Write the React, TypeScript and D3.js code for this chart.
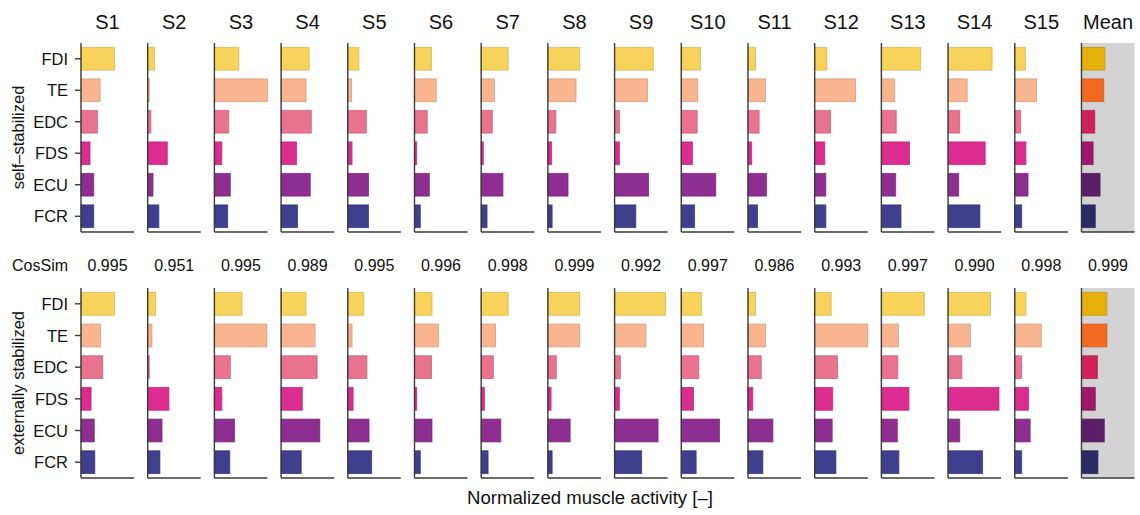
import React from "react";
import * as d3 from "d3";

// Subjects (columns) and muscles (rows within each panel)
const subjects = ["S1", "S2", "S3", "S4", "S5", "S6", "S7", "S8", "S9", "S10", "S11", "S12", "S13", "S14", "S15", "Mean"];
const muscles = ["FDI", "TE", "EDC", "FDS", "ECU", "FCR"];

// Normalized muscle activity, one array per subject in muscle order
const selfStabilized: number[][] = [
  [0.63, 0.36, 0.31, 0.17, 0.24, 0.24],
  [0.13, 0.03, 0.06, 0.37, 0.10, 0.21],
  [0.46, 1.00, 0.27, 0.14, 0.30, 0.25],
  [0.53, 0.47, 0.57, 0.29, 0.55, 0.31],
  [0.21, 0.07, 0.35, 0.08, 0.39, 0.39],
  [0.32, 0.41, 0.24, 0.04, 0.28, 0.11],
  [0.51, 0.25, 0.21, 0.04, 0.41, 0.11],
  [0.60, 0.53, 0.15, 0.07, 0.38, 0.08],
  [0.73, 0.62, 0.09, 0.09, 0.64, 0.40],
  [0.36, 0.31, 0.30, 0.21, 0.65, 0.25],
  [0.14, 0.33, 0.21, 0.07, 0.35, 0.18],
  [0.23, 0.77, 0.30, 0.19, 0.21, 0.21],
  [0.74, 0.25, 0.28, 0.53, 0.27, 0.37],
  [0.83, 0.36, 0.22, 0.70, 0.20, 0.60],
  [0.20, 0.41, 0.11, 0.21, 0.25, 0.13],
  [0.44, 0.42, 0.25, 0.22, 0.35, 0.26],
];

const externallyStabilized: number[][] = [
  [0.63, 0.37, 0.41, 0.19, 0.25, 0.26],
  [0.15, 0.08, 0.03, 0.40, 0.27, 0.23],
  [0.52, 0.99, 0.30, 0.14, 0.38, 0.29],
  [0.47, 0.64, 0.68, 0.40, 0.73, 0.38],
  [0.30, 0.08, 0.36, 0.10, 0.40, 0.45],
  [0.33, 0.45, 0.32, 0.04, 0.33, 0.11],
  [0.51, 0.27, 0.23, 0.06, 0.37, 0.13],
  [0.60, 0.60, 0.16, 0.06, 0.42, 0.08],
  [0.96, 0.59, 0.11, 0.09, 0.82, 0.51],
  [0.38, 0.42, 0.33, 0.23, 0.72, 0.28],
  [0.14, 0.33, 0.25, 0.09, 0.47, 0.28],
  [0.31, 1.00, 0.43, 0.34, 0.33, 0.40],
  [0.81, 0.32, 0.31, 0.52, 0.30, 0.33],
  [0.80, 0.42, 0.26, 0.96, 0.22, 0.65],
  [0.21, 0.50, 0.13, 0.26, 0.29, 0.13],
  [0.48, 0.48, 0.30, 0.26, 0.43, 0.31],
];

const cosSim = ["0.995", "0.951", "0.995", "0.989", "0.995", "0.996", "0.998", "0.999", "0.992", "0.997", "0.986", "0.993", "0.997", "0.990", "0.998", "0.999"];

const rowLabels = ["self\u2013stabilized", "externally stabilized"];
const xAxisTitle = "Normalized muscle activity [\u2013]";

const subjectColors = ["#F8D35B", "#F8B58F", "#E8728F", "#DC2C90", "#8E2E90", "#403F8D"];
const meanColors = ["#E6B00C", "#F26A21", "#D1215A", "#A0186A", "#5C1E69", "#2B2A66"];

const W = 1140;
const H = 515;
const FONT = "'Liberation Sans', Arial, Helvetica, sans-serif";
const AXIS = "#3a3a3a";

const panelX = d3.scaleBand<string>().domain(subjects).range([81, 1134.5]).paddingInner(0.205);
const bw = panelX.bandwidth();
const x = d3.scaleLinear().domain([0, 1]).range([0, bw]);

const rows = [
  { data: selfStabilized, top: 43, bottom: 232 },
  { data: externallyStabilized, top: 288, bottom: 478 },
];

function Panel({ values, subject, top, bottom, withTicks }: { values: number[]; subject: string; top: number; bottom: number; withTicks: boolean }) {
  const y = d3.scaleBand<string>().domain(muscles).range([top, bottom]).paddingInner(0.28).paddingOuter(0.14);
  const x0 = panelX(subject) as number;
  const isMean = subject === "Mean";
  const colors = isMean ? meanColors : subjectColors;
  return (
    <g>
      {isMean && <rect x={x0} y={top} width={bw} height={bottom - top} fill="#D3D3D3" />}
      {muscles.map((m, i) => {
        const c = colors[i];
        const stroke = d3.color(c)!.darker(0.45).formatHex();
        return (
          <rect
            key={m}
            x={x0}
            y={y(m)}
            width={Math.max(x(values[i]), 0.5)}
            height={y.bandwidth()}
            fill={c}
            stroke={stroke}
            strokeOpacity={0.75}
            strokeWidth={1}
          />
        );
      })}
      <line x1={x0} x2={x0} y1={top} y2={bottom} stroke={AXIS} strokeWidth={1.4} />
      <line x1={x0} x2={x0 + bw} y1={bottom} y2={bottom} stroke={AXIS} strokeWidth={1.4} />
      {withTicks &&
        muscles.map((m) => {
          const cy = (y(m) as number) + y.bandwidth() / 2;
          return (
            <g key={m}>
              <line x1={x0 - 6} x2={x0} y1={cy} y2={cy} stroke={AXIS} strokeWidth={1.4} />
              <text x={x0 - 13} y={cy} textAnchor="end" dominantBaseline="central" fontSize={16.5} fill="#111">
                {m}
              </text>
            </g>
          );
        })}
    </g>
  );
}

export default function App() {
  return (
    <svg
      width={W}
      height={H}
      viewBox={`0 0 ${W} ${H}`}
      style={{ position: "absolute", left: 0, top: 0, background: "#fff" }}
      fontFamily={FONT}
    >
      {subjects.map((s) => (
        <text key={s} x={(panelX(s) as number) + bw / 2} y={28.5} textAnchor="middle" fontSize={20} fill="#111">
          {s}
        </text>
      ))}

      {rows.map((r, ri) =>
        subjects.map((s, si) => (
          <Panel key={`${ri}-${s}`} values={r.data[si]} subject={s} top={r.top} bottom={r.bottom} withTicks={si === 0} />
        ))
      )}

      <text x={12} y={271} fontSize={16} fill="#111">CosSim</text>
      {subjects.map((s, si) => (
        <text key={s} x={(panelX(s) as number) + bw / 2} y={271} textAnchor="middle" fontSize={16} fill="#111">
          {cosSim[si]}
        </text>
      ))}

      {rows.map((r, ri) => (
        <text
          key={ri}
          transform={`translate(24, ${(r.top + r.bottom) / 2}) rotate(-90)`}
          textAnchor="middle"
          fontSize={16.5}
          fill="#111"
        >
          {rowLabels[ri]}
        </text>
      ))}

      <text x={590} y={504} textAnchor="middle" fontSize={18.6} fill="#111">
        {xAxisTitle}
      </text>
    </svg>
  );
}
